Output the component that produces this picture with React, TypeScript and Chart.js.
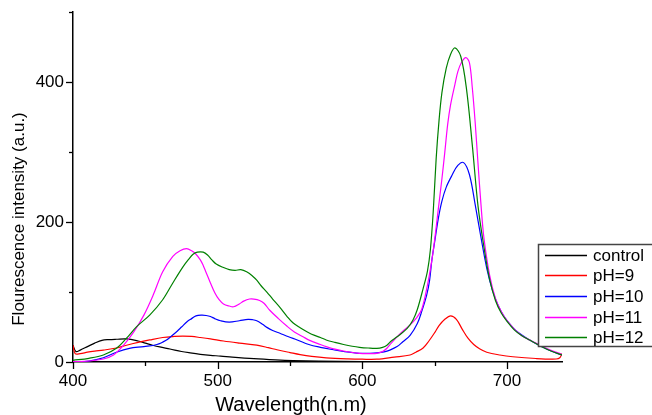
import React, { useEffect, useRef } from "react";
import { Chart, registerables } from "chart.js";

Chart.register(...registerables);

const seriesNames = ["control", "pH=9", "pH=10", "pH=11", "pH=12"];
const seriesColors = ["#000000", "#ff0000", "#0000ff", "#ff00ff", "#008000"];

const controlNm = [400, 402, 405, 410, 415, 420, 425, 430, 437, 445, 450, 455, 460, 467, 475, 481, 488, 495, 502, 510, 525, 540, 552, 570, 600, 650, 700, 738];
const controlVal = [24, 15, 17, 22, 27, 31, 32, 32.5, 33, 30, 27, 24, 21.5, 18.6, 15, 13, 11, 9.5, 8.5, 7, 4.7, 3, 2, 1.2, 0.6, 0.4, 0.4, 0.6];

const ph9Nm = [400, 401.5, 405, 410, 415, 421, 430, 437, 445, 453, 462, 470, 476, 482, 488, 495, 504, 515, 527, 535, 541, 550, 557, 565, 575, 590, 600, 610, 622, 633, 637, 642, 646, 650, 653, 657, 661, 665, 669, 673, 677, 681, 686, 695, 704, 720, 734, 736.5, 738];
const ph9Val = [24, 12, 12, 14, 15.5, 17, 20, 24, 28, 31.5, 35, 36.5, 37, 36.5, 35, 33, 30, 27, 24, 20.5, 17.5, 13.5, 10.5, 8, 6, 4.5, 4, 4, 7, 10, 14, 20, 30, 42, 52, 61, 66, 61, 47, 34, 25, 19, 14, 10, 7.5, 5, 4.3, 6, 12];

const ph10Nm = [400, 411, 421, 430, 439, 449, 458, 465, 468, 472, 475, 479, 482, 485, 489, 492, 495, 498, 502, 508, 515, 521, 524, 527, 531, 534, 538, 543, 549, 555, 563, 571, 580, 587, 598, 605, 610, 615, 619, 624, 628, 633, 638, 641, 644.5, 646.5, 648, 650, 652.5, 655, 658, 662, 666, 670, 674, 678, 682, 686, 690, 694, 698, 702, 706, 712, 716, 722, 730, 738];
const ph10Val = [0, 1.4, 6, 14, 19.6, 22, 25, 32, 37, 44, 50, 58, 62, 66, 67, 66.5, 65, 62, 59, 57, 59, 61, 60.5, 59, 54, 49.5, 45, 41, 36, 31.5, 25, 21, 17.5, 15, 12.4, 12.5, 13, 14.5, 17, 22, 29, 38, 55, 72, 96, 117, 145, 172, 205, 230, 250, 267, 281, 285, 268, 225, 178, 134, 102, 80, 65, 54, 45, 36, 31, 24, 16, 10];

const ph11Nm = [400, 411, 421, 428, 435, 442, 449, 455.5, 462, 469, 474, 478.5, 482, 485, 488, 490, 492, 495, 498, 501, 504, 508, 511, 515, 518, 522, 525, 529, 532, 536, 542, 548, 553, 559, 564, 571, 575, 580, 587, 598, 605, 610, 614, 617, 620, 624, 628, 633, 637, 641, 645, 648, 650, 652, 655, 657, 659, 661, 664, 666, 668.5, 671.5, 674, 676, 678, 680, 682, 684, 688, 692, 696, 700, 705, 710, 716, 722, 730, 738];
const ph11Val = [0.5, 1.4, 4.3, 10, 24, 43, 67, 96, 129, 151, 159, 162, 159, 154, 146, 138, 128, 113, 99, 89, 83, 80, 79, 83, 87, 90, 90, 88, 84, 74, 62, 51, 43, 36, 30.5, 25, 22, 19, 15.7, 12.4, 12, 12.4, 15, 19.6, 27, 36, 44, 53, 62, 75, 110, 145, 175, 210, 262, 300, 340, 368, 397, 415, 428, 435, 428, 392, 342, 282, 225, 178, 124, 91, 72, 59, 47, 38, 31, 25, 17, 11];

const ph12Nm = [400, 411, 421, 430, 437, 444, 453, 462, 469, 476, 480, 483, 486, 490, 493, 496, 499, 504, 508, 512, 516, 520, 524, 527, 530, 534, 538, 543, 548, 552, 557, 562, 567, 571, 575, 581, 587, 593, 598, 604, 610, 614, 617, 620, 624, 631, 635, 638, 642, 645, 647, 649, 651, 653, 655, 658, 661, 664, 668, 672, 676, 680, 684, 688, 692, 696, 700, 705, 710, 716, 722, 730, 738];
const ph12Val = [2.4, 5.3, 10, 19.6, 34, 50.5, 67, 89, 113, 136, 147, 154, 157, 157, 153, 146, 140, 135, 132, 131, 132, 129, 123, 117, 109, 100, 90, 78, 65, 56, 49, 43, 38, 35, 31.5, 28, 25, 22.5, 21, 20, 19.6, 21, 24, 30, 36, 48, 60, 75, 105, 130, 160, 215, 290, 345, 385, 420, 440, 449, 437, 390, 310, 222, 165, 118, 88, 70, 58, 46, 38, 31, 24, 16, 10];

const xTickValues = [400, 450, 500, 550, 600, 650, 700];
const yTickValues = [0, 100, 200, 300, 400, 500];
const xTitle = "Wavelength(n.m)";
const yTitle = "Flourescence intensity (a.u.)";

const FONT = "'Liberation Sans', Arial, sans-serif";

const allNm = [controlNm, ph9Nm, ph10Nm, ph11Nm, ph12Nm];
const allVal = [controlVal, ph9Val, ph10Val, ph11Val, ph12Val];

const overlay = {
  id: "overlay",
  afterDraw(chart: any) {
    const ctx = chart.ctx as CanvasRenderingContext2D;
    const xs = chart.scales.x;
    const ys = chart.scales.y;
    const area = chart.chartArea;
    ctx.save();
    ctx.strokeStyle = "#000";
    ctx.lineWidth = 1.3;
    yTickValues.forEach((v) => {
      const py = Math.round(ys.getPixelForValue(v)) + 0.5;
      const len = v % 200 === 0 ? 7 : 4;
      ctx.beginPath();
      ctx.moveTo(area.left, py);
      ctx.lineTo(area.left - len, py);
      ctx.stroke();
    });
    xTickValues.forEach((v) => {
      const px = Math.round(xs.getPixelForValue(v)) + 0.5;
      const len = v % 100 === 0 ? 7 : 4;
      ctx.beginPath();
      ctx.moveTo(px, area.bottom);
      ctx.lineTo(px, area.bottom + len);
      ctx.stroke();
    });
    ctx.fillStyle = "#000";
    ctx.font = `20px ${FONT}`;
    ctx.textAlign = "center";
    ctx.textBaseline = "middle";
    ctx.fillText(xTitle, 291, 405);
    ctx.save();
    ctx.translate(19, 219);
    ctx.rotate(-Math.PI / 2);
    ctx.font = `17px ${FONT}`;
    ctx.fillText(yTitle, 0, 0);
    ctx.restore();
    ctx.fillStyle = "#fff";
    ctx.fillRect(538, 244, 130, 102);
    ctx.strokeStyle = "#444";
    ctx.lineWidth = 1.5;
    ctx.strokeRect(538.5, 244.5, 130, 102);
    const rows = [255, 275, 296, 317, 337];
    ctx.font = `17px ${FONT}`;
    ctx.textAlign = "left";
    seriesNames.forEach((name, i) => {
      ctx.strokeStyle = seriesColors[i];
      ctx.lineWidth = 1.3;
      ctx.beginPath();
      ctx.moveTo(545, rows[i] + 0.5);
      ctx.lineTo(587, rows[i] + 0.5);
      ctx.stroke();
      ctx.fillStyle = "#000";
      ctx.fillText(name, 593, rows[i] + 1);
    });
    ctx.restore();
  },
};

export default function App() {
  const ref = useRef<HTMLCanvasElement>(null);
  useEffect(() => {
    if (!ref.current) return;
    const chart = new Chart(ref.current, {
      type: "line",
      data: {
        datasets: seriesNames.map((name, i) => ({
          label: name,
          data: allNm[i].map((x, j) => ({ x, y: allVal[i][j] })),
          borderColor: seriesColors[i],
          borderWidth: 1.2,
          pointRadius: 0,
          fill: false,
          tension: 0.35,
          order: 5 - i,
        })),
      },
      options: {
        animation: false,
        responsive: false,
        events: [],
        layout: { padding: { top: 12, right: 90, left: 0, bottom: 0 } },
        plugins: { legend: { display: false }, tooltip: { enabled: false } },
        scales: {
          x: {
            type: "linear",
            min: 400,
            max: 738,
            ticks: {
              stepSize: 50,
              includeBounds: false,
              autoSkip: false,
              maxRotation: 0,
              padding: 2,
              color: "#000",
              font: { family: FONT, size: 17 },
              callback: (v: any) => (Number(v) % 100 === 0 ? String(v) : ""),
            },
            grid: { display: true, drawOnChartArea: false, color: "rgba(0,0,0,0)", tickLength: 7 },
            border: { display: true, color: "#000", width: 1.5 },
            afterFit: (s: any) => {
              s.height = 53;
            },
          },
          y: {
            type: "linear",
            min: 0,
            max: 500,
            ticks: {
              stepSize: 100,
              autoSkip: false,
              padding: 2,
              color: "#000",
              font: { family: FONT, size: 17 },
              callback: (v: any) => (Number(v) % 200 === 0 ? String(v) : ""),
            },
            grid: { display: true, drawOnChartArea: false, color: "rgba(0,0,0,0)", tickLength: 7 },
            border: { display: true, color: "#000", width: 1.5 },
            afterFit: (s: any) => {
              s.width = 73;
            },
          },
        },
      },
      plugins: [overlay],
    });
    return () => chart.destroy();
  }, []);
  return (
    <div style={{ position: "absolute", left: 0, top: 0, width: 652, height: 415, background: "#fff" }}>
      <canvas ref={ref} width={652} height={415} />
    </div>
  );
}
